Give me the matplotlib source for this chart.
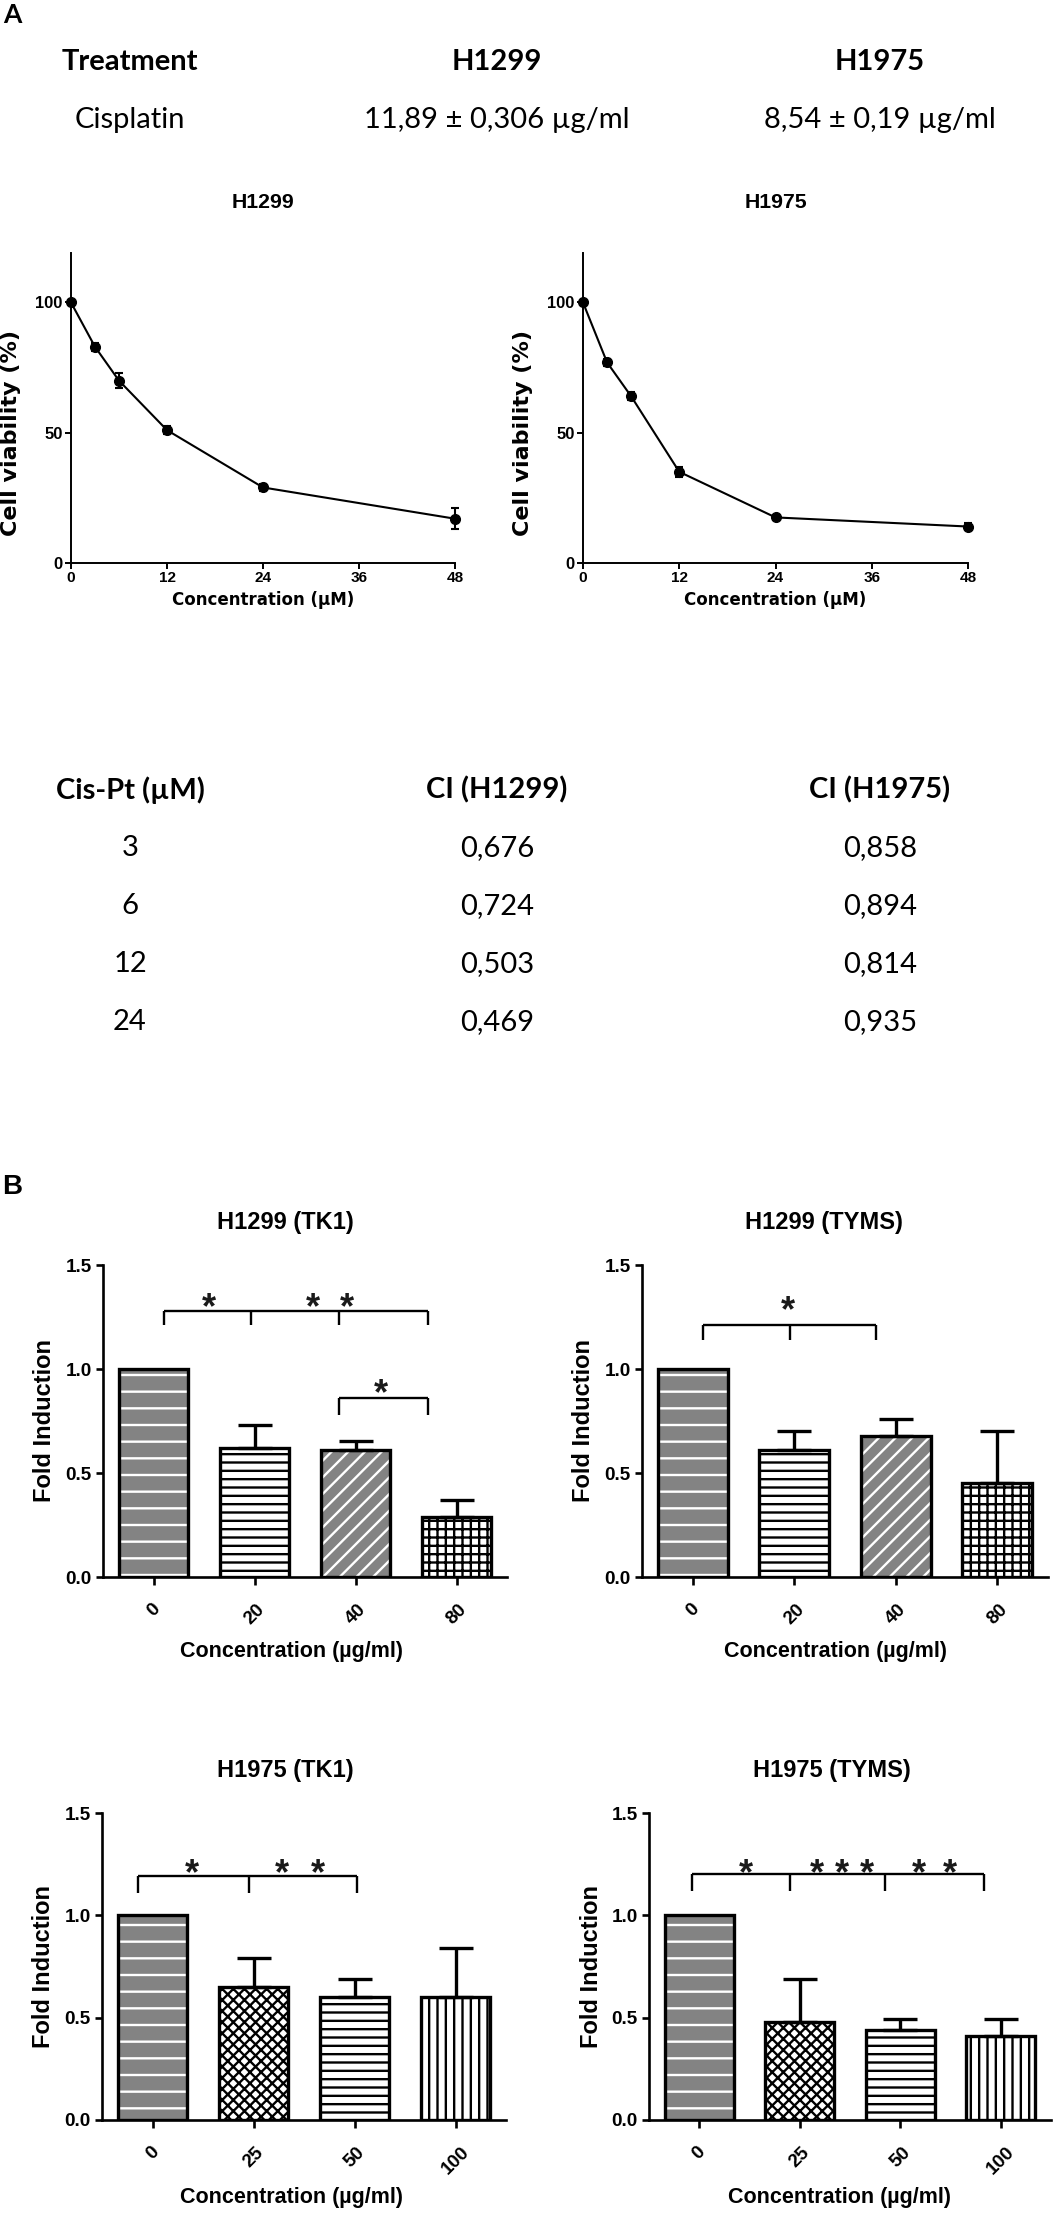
import matplotlib
matplotlib.use('Agg')
import matplotlib.pyplot as plt
from matplotlib import font_manager
import numpy as np

W, H = 1054, 2215
DPI = 100

_names = {f.name for f in font_manager.fontManager.ttflist}
HAS_NARROW = 'Liberation Sans Narrow' in _names
NARROW = ['Liberation Sans Narrow', 'Liberation Sans', 'DejaVu Sans'] if HAS_NARROW else ['Liberation Sans', 'DejaVu Sans']
NS = 1.0 if HAS_NARROW else 0.85
CAL = ['Lato', 'DejaVu Sans']
ARIAL = ['Liberation Sans', 'DejaVu Sans']
DJ = ['DejaVu Sans']

plt.rcParams['hatch.linewidth'] = 1.7

# ---------------- data ----------------
ic50_header = ['Treatment', 'H1299', 'H1975']
ic50_row = ['Cisplatin', '11,89 ± 0,306 µg/ml', '8,54 ± 0,19 µg/ml']

conc_uM = [0, 3, 6, 12, 24, 48]
via_h1299 = [100, 83, 70, 51, 29, 17]
via_h1299_err = [1, 1.5, 3, 1.5, 1.5, 4]
via_h1975 = [100, 77, 64, 35, 17.5, 14]
via_h1975_err = [1, 1.5, 1.5, 2, 1, 1.5]
via_xticks = [0, 12, 24, 36, 48]
via_yticks = [0, 50, 100]

ci_header = ['Cis-Pt (µM)', 'CI (H1299)', 'CI (H1975)']
ci_dose = ['3', '6', '12', '24']
ci_h1299 = ['0,676', '0,724', '0,503', '0,469']
ci_h1975 = ['0,858', '0,894', '0,814', '0,935']

h1299_doses = ['0', '20', '40', '80']
h1975_doses = ['0', '25', '50', '100']
tk1_h1299 = [1.0, 0.62, 0.61, 0.29]
tk1_h1299_err = [0, 0.11, 0.045, 0.08]
tyms_h1299 = [1.0, 0.61, 0.68, 0.45]
tyms_h1299_err = [0, 0.09, 0.08, 0.25]
tk1_h1975 = [1.0, 0.65, 0.60, 0.60]
tk1_h1975_err = [0, 0.14, 0.09, 0.24]
tyms_h1975 = [1.0, 0.48, 0.44, 0.41]
tyms_h1975_err = [0, 0.21, 0.055, 0.085]
fold_yticks = [0.0, 0.5, 1.0, 1.5]

# significance brackets: (tick x positions, line y, tick bottom y)
sig_tk1_h1299 = [([0.1, 0.97, 1.84, 2.72], 1.28, 1.21), ([1.84, 2.72], 0.86, 0.78)]
stars_tk1_h1299 = [(0.55, 1.345), (1.58, 1.345), (1.92, 1.345), (2.25, 0.93)]
sig_tyms_h1299 = [([0.10, 0.96, 1.81], 1.21, 1.14)]
stars_tyms_h1299 = [(0.94, 1.33)]
sig_tk1_h1975 = [([-0.14, 0.96, 2.02], 1.19, 1.11)]
stars_tk1_h1975 = [(0.39, 1.255), (1.28, 1.255), (1.64, 1.255)]
sig_tyms_h1975 = [([-0.07, 0.90, 1.85, 2.83], 1.20, 1.12)]
stars_tyms_h1975 = [(0.46, 1.255), (1.17, 1.255), (1.42, 1.255), (1.67, 1.255),
                    (2.19, 1.255), (2.49, 1.255)]

patterns = {
    'ctrl': ('#838383', '-', 'white'),
    'hlines': ('white', '--', 'black'),
    'graydiag': ('#838383', '//', 'white'),
    'grid': ('white', '++', 'black'),
    'checker': ('white', 'xxx', 'black'),
    'vlines': ('white', '||', 'black'),
}
pat_h1299 = ['ctrl', 'hlines', 'graydiag', 'grid']
pat_h1975 = ['ctrl', 'checker', 'hlines', 'vlines']

# ---------------- figure ----------------
fig = plt.figure(figsize=(W / DPI, H / DPI), dpi=DPI)


def add_ax(x0, y0, x1, y1):
    return fig.add_axes([x0 / W, 1 - y1 / H, (x1 - x0) / W, (y1 - y0) / H])


def ftext(x, y, s, **kw):
    fig.text(x / W, 1 - y / H, s, **kw)


# Panel labels
ftext(3, 15, 'A', family=CAL, weight='bold', fontsize=19, ha='left', va='center')
ftext(2, 1187, 'B', family=ARIAL, weight='bold', fontsize=20, ha='left', va='center')

# IC50 table
col_x = [130, 497, 880]
for cx, s in zip(col_x, ic50_header):
    ftext(cx, 62, s, family=CAL, weight='bold', fontsize=21, ha='center', va='center')
for cx, s in zip(col_x, ic50_row):
    ftext(cx, 120, s, family=CAL, fontsize=21, ha='center', va='center')


# Viability curves
def viability(box, title, vals, errs):
    ax = add_ax(*box)
    ax.errorbar(conc_uM, vals, yerr=errs, color='black', lw=1.5, marker='o', ms=7,
                mfc='black', mec='black', elinewidth=1.5, capsize=3, capthick=1.5,
                clip_on=False, zorder=3)
    ax.set_xlim(0, 48)
    ax.set_ylim(0, 119)
    for s in ('top', 'right'):
        ax.spines[s].set_visible(False)
    for s in ('left', 'bottom'):
        ax.spines[s].set_linewidth(1.4)
    ax.set_xticks(via_xticks)
    ax.set_yticks(via_yticks)
    ax.set_xticklabels([str(v) for v in via_xticks], family=NARROW, weight='bold', fontsize=13 * NS)
    ax.set_yticklabels([str(v) for v in via_yticks], family=NARROW, weight='bold', fontsize=14 * NS)
    ax.tick_params(direction='out', length=4, width=1.4, pad=2)
    x0, y0, x1, y1 = box
    ftext((x0 + x1) / 2, 203, title, family=NARROW, weight='bold', fontsize=18 * NS,
          ha='center', va='center')
    ftext((x0 + x1) / 2, 600, 'Concentration (µM)', family=DJ, weight='bold', fontsize=12,
          ha='center', va='center')
    ftext(x0 - 60, 433, 'Cell viability (%)', family=DJ, weight='bold', fontsize=16,
          ha='center', va='center', rotation=90)
    return ax


viability((71, 253, 455, 563), 'H1299', via_h1299, via_h1299_err)
viability((583, 253, 968, 563), 'H1975', via_h1975, via_h1975_err)

# CI table
ci_y0 = 790
ci_dy = 58
for cx, s in zip(col_x, ci_header):
    ftext(cx, ci_y0, s, family=CAL, weight='bold', fontsize=21, ha='center', va='center')
for i in range(len(ci_dose)):
    y = ci_y0 + ci_dy * (i + 1)
    for cx, s in zip(col_x, (ci_dose[i], ci_h1299[i], ci_h1975[i])):
        ftext(cx, y, s, family=CAL, fontsize=21, ha='center', va='center')


# Bar charts
def barchart(box, title, doses, vals, errs, pats, brackets, stars, title_x, xlabel_x, xlabel_y, title_y):
    ax = add_ax(*box)
    x = np.arange(len(doses))
    for i in range(len(doses)):
        fc, hatch, hc = patterns[pats[i]]
        ax.bar(x[i], vals[i], width=0.69, color=fc, edgecolor=hc, hatch=hatch, linewidth=0, zorder=2)
        ax.bar(x[i], vals[i], width=0.69, facecolor='none', edgecolor='black', linewidth=2.4, zorder=3)
    idx = [i for i in range(len(doses)) if errs[i] > 0]
    ax.errorbar(x[idx], np.array(vals)[idx], yerr=[np.zeros(len(idx)), np.array(errs)[idx]],
                fmt='none', ecolor='black', elinewidth=2.4, capsize=12, capthick=2.4, zorder=4)
    for ticks, yl, yb in brackets:
        ax.plot([ticks[0], ticks[-1]], [yl, yl], color='black', lw=1.7, solid_capstyle='butt', zorder=5)
        for t in ticks:
            ax.plot([t, t], [yl, yb], color='black', lw=1.7, solid_capstyle='butt', zorder=5)
    fs_star = 26
    for sx, sy in stars:
        ax.annotate('*', (sx, sy), xytext=(0, -0.58 * fs_star), textcoords='offset points',
                    ha='center', va='baseline', family=ARIAL, weight='bold', fontsize=fs_star,
                    color='#1a1a1a', zorder=6)
    ax.set_xlim(-0.5, 3.5)
    ax.set_ylim(0, 1.5)
    for s in ('top', 'right'):
        ax.spines[s].set_visible(False)
    for s in ('left', 'bottom'):
        ax.spines[s].set_linewidth(1.9)
    ax.set_xticks(x)
    ax.set_xticklabels(doses, rotation=45, ha='center', family=NARROW, weight='bold', fontsize=16 * NS)
    ax.set_yticks(fold_yticks)
    ax.set_yticklabels(['%.1f' % v for v in fold_yticks], family=NARROW, weight='bold', fontsize=16 * NS)
    ax.tick_params(axis='x', direction='out', length=6, width=1.9, pad=11)
    ax.tick_params(axis='y', direction='out', length=5, width=1.9, pad=3)
    x0, y0, x1, y1 = box
    ftext(title_x, title_y, title, family=ARIAL, weight='bold', fontsize=17, ha='center', va='center')
    ftext(xlabel_x, xlabel_y, 'Concentration (µg/ml)', family=ARIAL, weight='bold', fontsize=15.5,
          ha='center', va='center')
    ftext(x0 - 58, (y0 + y1) / 2, 'Fold Induction', family=ARIAL, weight='bold', fontsize=17,
          ha='center', va='center', rotation=90)
    return ax


barchart((103, 1265, 507, 1577), 'H1299 (TK1)', h1299_doses, tk1_h1299, tk1_h1299_err, pat_h1299,
         sig_tk1_h1299, stars_tk1_h1299, 285, 292, 1651, 1223)
barchart((642, 1265, 1048, 1577), 'H1299 (TYMS)', h1299_doses, tyms_h1299, tyms_h1299_err, pat_h1299,
         sig_tyms_h1299, stars_tyms_h1299, 824, 836, 1651, 1223)
barchart((102, 1813, 506, 2120), 'H1975 (TK1)', h1975_doses, tk1_h1975, tk1_h1975_err, pat_h1975,
         sig_tk1_h1975, stars_tk1_h1975, 285, 292, 2198, 1770)
barchart((649, 1813, 1051, 2120), 'H1975 (TYMS)', h1975_doses, tyms_h1975, tyms_h1975_err, pat_h1975,
         sig_tyms_h1975, stars_tyms_h1975, 832, 840, 2198, 1770)

fig.savefig('out.png', dpi=DPI)
